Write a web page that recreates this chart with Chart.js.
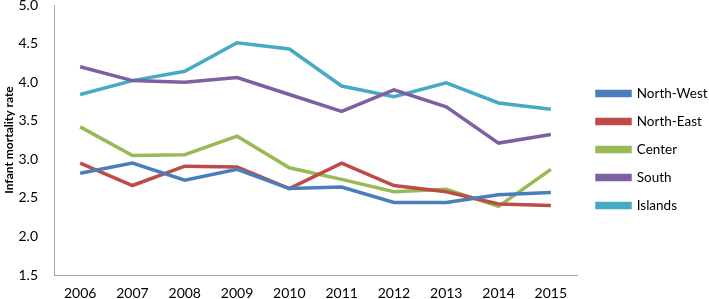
<!DOCTYPE html>
<html><head><meta charset="utf-8">
<script src="https://cdn.jsdelivr.net/npm/chart.js@4/dist/chart.umd.min.js"></script>
<style>html,body{margin:0;padding:0;background:#fff}#w{width:709px;height:299px}</style>
</head><body><div id="w"><canvas id="c"></canvas></div>
<script>
const years = ['2006','2007','2008','2009','2010','2011','2012','2013','2014','2015'];
const northWest = [2.82,2.95,2.73,2.87,2.62,2.64,2.44,2.44,2.54,2.57];
const northEast = [2.95,2.66,2.91,2.90,2.62,2.95,2.66,2.58,2.42,2.40];
const center    = [3.42,3.05,3.06,3.30,2.89,2.74,2.58,2.61,2.39,2.87];
const south     = [4.20,4.02,4.00,4.06,3.84,3.62,3.90,3.68,3.21,3.32];
const islands   = [3.84,4.02,4.14,4.51,4.43,3.95,3.81,3.99,3.73,3.65];
const yTicks = [1.5,2.0,2.5,3.0,3.5,4.0,4.5,5.0];

const FONT = 'Lato, "Open Sans", sans-serif';
function ds(label, data, color){
  return {label, data, borderColor: color, backgroundColor: color, borderWidth: 3.5,
    pointRadius: 0, tension: 0, fill: false};
}
const shiftLegend = {
  id: 'shiftLegend',
  afterLayout(chart){
    const lg = chart.legend;
    if (lg) { lg.left += 5.5; lg.right += 5.5; }
  }
};
new Chart(document.getElementById('c'), {
  type: 'line',
  plugins: [shiftLegend],
  data: {labels: years, datasets: [
    ds('North-West', northWest, '#4A7EBB'),
    ds('North-East', northEast, '#BE4B48'),
    ds('Center', center, '#98B954'),
    ds('South', south, '#7D60A0'),
    ds('Islands', islands, '#46AAC5')
  ]},
  options: {
    responsive: true, maintainAspectRatio: false, animation: false,
    layout: {padding: {left: 0, right: 0, top: 0, bottom: 0}},
    plugins: {
      tooltip: {enabled: false},
      legend: {
        position: 'right',
        maxWidth: 132,
        labels: {boxWidth: 33, boxHeight: 4, padding: 14.5, color: '#000',
          font: {family: FONT, size: 13.5}}
      }
    },
    scales: {
      x: {
        offset: true,
        grid: {display: false, drawTicks: false},
        border: {display: true, color: '#a6a6a6', width: 1},
        afterFit: s => { s.height = 24; s.paddingTop = 0; s.paddingBottom = 0; },
        ticks: {color: '#000', font: {family: FONT, size: 14}, padding: 10.5, maxRotation: 0}
      },
      y: {
        min: 1.5, max: 5.0,
        grid: {display: false, drawTicks: false},
        border: {display: true, color: '#a6a6a6', width: 1},
        afterFit: s => { s.width = 54; s.paddingTop = 5; s.paddingBottom = 0; },
        afterBuildTicks: s => { s.ticks = yTicks.map(v => ({value: v})); },
        ticks: {color: '#000', font: {family: FONT, size: 14}, padding: 16,
          callback: v => Number(v).toFixed(1)},
        title: {display: true, text: 'Infant mortality rate', color: '#000',
          font: {family: FONT, size: 12, weight: 'bold'}, padding: {top: 2, bottom: 0}}
      }
    }
  }
});
</script></body></html>
